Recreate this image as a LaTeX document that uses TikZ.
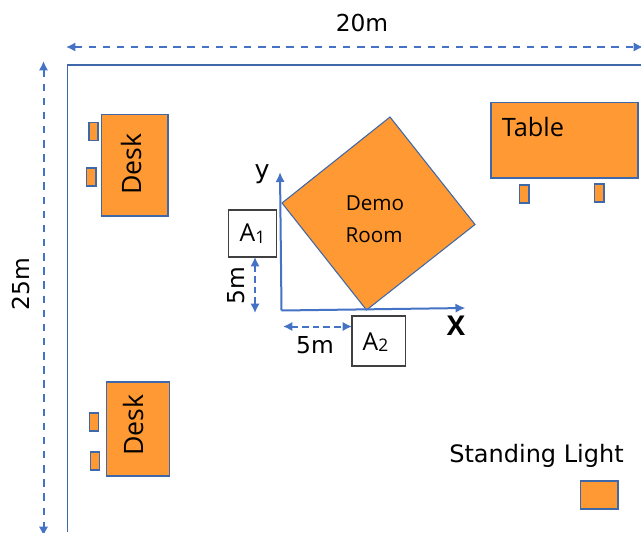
\documentclass[tikz,border=0pt]{standalone}
\usepackage{fontspec}
\setmainfont{Open Sans}
\newfontfamily\verd{DejaVu Sans}
\usetikzlibrary{arrows.meta}
\definecolor{fillor}{HTML}{FF9933}
\definecolor{edgeb}{HTML}{3F68A8}
\definecolor{arrowb}{HTML}{4472C4}
\newcommand{\fs}[1]{\fontsize{#1}{#1}\selectfont}
\newcommand{\smallsub}[1]{\raisebox{-0.1ex}{\fontsize{13}{13}\selectfont #1}}
\tikzset{
  x=0.75pt,y=-0.75pt,
  block/.style={draw=edgeb,fill=fillor,line width=0.8pt,inner sep=0pt,outer sep=0pt,anchor=north west},
  labelbox/.style={draw=black!75,fill=white,line width=0.8pt,inner sep=0pt,outer sep=0pt,anchor=north west},
  dimline/.style={draw=arrowb,line width=1.5pt,dash pattern=on 5.6pt off 5pt,{Latex[length=7pt,width=7pt]}-{Latex[length=7pt,width=7pt]}},
  shortdim/.style={dimline,dash pattern=on 5pt off 3pt},
  axisline/.style={draw=arrowb,line width=1.5pt,-{Latex[length=7.5pt,width=7pt]}},
  wall/.style={draw=edgeb,line width=0.8pt},
  txt/.style={inner sep=0pt,text=black},
}
\newcommand{\boxat}[6][block]{\node[#1,minimum width=#4*0.75pt,minimum height=#5*0.75pt] (#6) at (#2,#3) {};}
\begin{document}
\begin{tikzpicture}
\useasboundingbox (0,0) rectangle (641,532);
% room walls
\coordinate (wallTR) at (641,65);
\coordinate (wallTL) at (67.7,65);
\coordinate (wallBL) at (67.7,532);
\draw[wall] (wallTR) -- (wallTL) -- (wallBL);
% dimensions of the room
\coordinate (topL) at (66,47);
\coordinate (topR) at (643,47);
\coordinate (leftT) at (43.5,61);
\coordinate (leftB) at (43.5,536);
\draw[dimline] (topL) -- (topR);
\draw[dimline] (leftT) -- (leftB);
\node[txt] (w20) at (362,23) {\verd\fs{17.5}20m};
\node[txt,rotate=90] (h25) at (21,284) {\verd\fs{17.5}25m};
% desks
\boxat{101.5}{114.5}{66.5}{101.5}{desk1}
\boxat{106.5}{382}{63}{94}{desk2}
\node[txt,rotate=90] (desk1t) at (131,164) {\fs{20}Desk};
\node[txt,rotate=90] (desk2t) at (133,425) {\fs{20}Desk};
\boxat{89}{122.5}{9}{18}{c1}
\boxat{86.5}{168}{9.5}{18}{c2}
\boxat{89.5}{413}{9}{18}{c3}
\boxat{90.5}{452}{9}{18}{c4}
% table
\boxat{491}{102.5}{147}{75.5}{table}
\node[txt] (tablet) at (533,127) {\fs{19}Table};
\boxat{519.5}{185}{9.5}{18}{c5}
\boxat{594.5}{184}{9.5}{18}{c6}
% demo room
\coordinate (dT) at (390,117);
\coordinate (dR) at (475,224.5);
\coordinate (dB) at (366.5,310);
\coordinate (dL) at (282,203);
\draw[draw=edgeb,fill=fillor,line width=0.8pt,line join=miter] (dT) -- (dR) -- (dB) -- (dL) -- cycle;
\node[txt] (demo) at (375,203) {\fs{15.5}Demo};
\node[txt] (roomt) at (374,235) {\fs{15.5}Room};
% axes
\coordinate (org) at (281.5,310.5);
\coordinate (yend) at (280,172);
\coordinate (xend) at (465.5,308);
\draw[axisline] (org) -- (yend);
\draw[axisline] (org) -- (xend);
\node[txt] (ylab) at (262,174) {\verd\fs{19}y};
\node[txt] (xlab) at (456,326) {\bfseries\fs{20.5}X};
% A boxes
\boxat[labelbox]{228.5}{210}{48}{47}{a1}
\boxat[labelbox]{352}{316}{53.5}{50}{a2}
\node[txt] (a1t) at (a1.center) {\fs{18.5}A\smallsub{1}};
\node[txt] (a2t) at (375.5,342) {\fs{18.5}A\smallsub{2}};
% 5m dimensions
\coordinate (v5end) at (255,313);
\coordinate (h5start) at (283,326.5);
\draw[shortdim] (a1.south -| v5end) -- (v5end);
\draw[shortdim] (h5start) -- (a2.west |- h5start);
\node[txt,rotate=90] (v5) at (236,286) {\verd\fs{17.5}5m};
\node[txt] (h5) at (315,345) {\verd\fs{17.5}5m};
% legend
\node[txt] (legend) at (536.5,455.5) {\verd\fs{18}Standing Light};
\boxat{580.5}{481}{37.5}{28}{legbox}
\end{tikzpicture}
\end{document}
